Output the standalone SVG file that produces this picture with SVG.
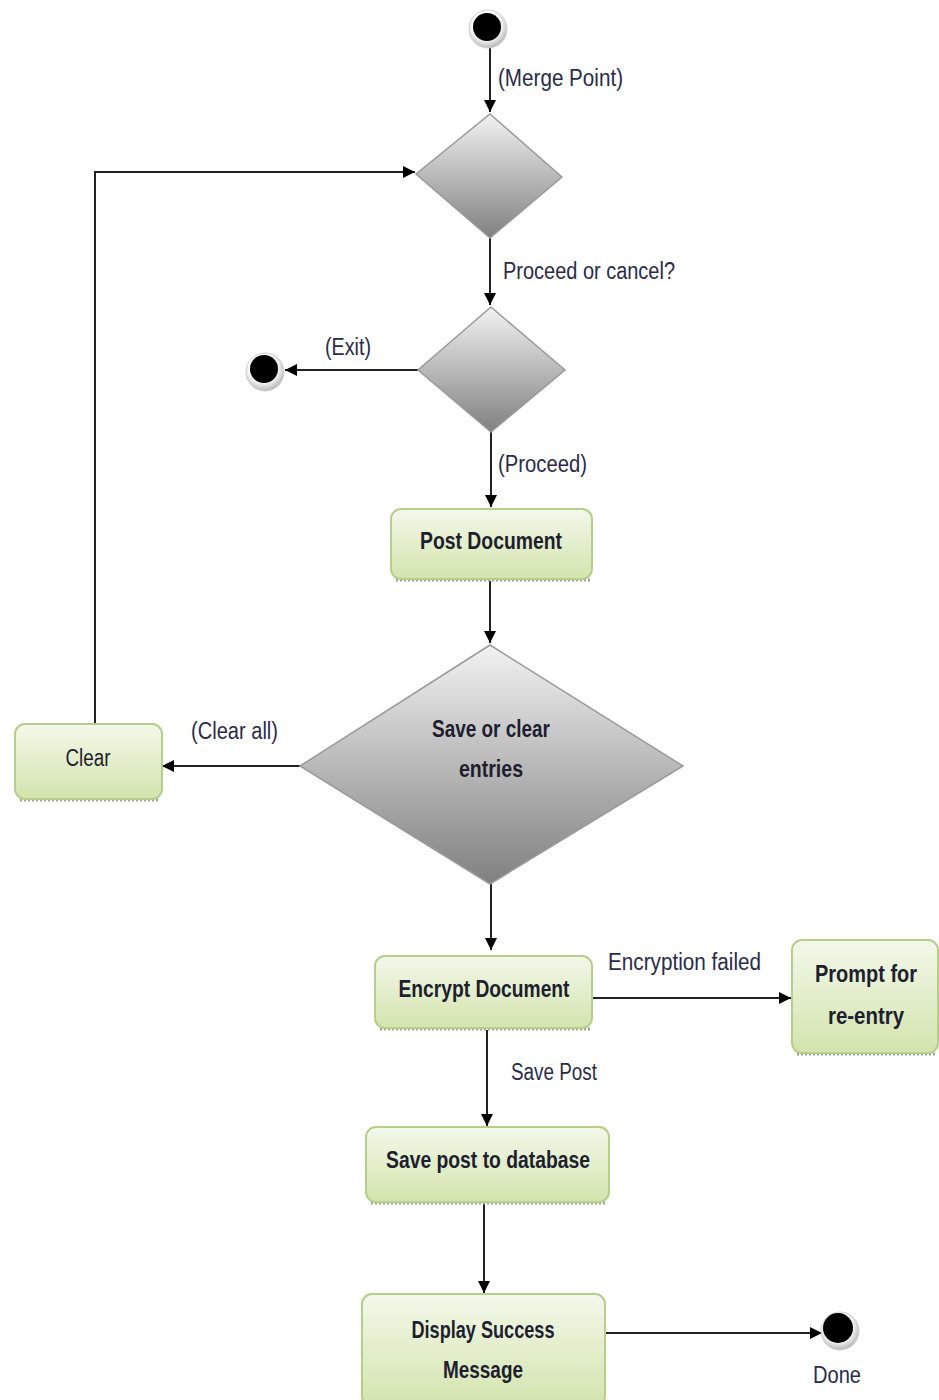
<svg xmlns="http://www.w3.org/2000/svg" width="939" height="1400" viewBox="0 0 939 1400">
  <defs>
    <linearGradient id="boxFill" x1="0" y1="0" x2="0" y2="1">
      <stop offset="0" stop-color="#f3f8ea"/>
      <stop offset="1" stop-color="#d3e4ad"/>
    </linearGradient>
    <linearGradient id="diaFill" x1="0" y1="0" x2="0" y2="1">
      <stop offset="0" stop-color="#f2f2f2"/>
      <stop offset="1" stop-color="#808080"/>
    </linearGradient>
    <radialGradient id="rim" cx="0.45" cy="0.4" r="0.6">
      <stop offset="0.6" stop-color="#ffffff"/>
      <stop offset="1" stop-color="#b8b8b8"/>
    </radialGradient>
    <marker id="arr" viewBox="0 0 10 10" refX="10" refY="5" markerWidth="12" markerHeight="12" markerUnits="userSpaceOnUse" orient="auto">
      <path d="M0,0 L10,5 L0,10 z" fill="#000"/>
    </marker>
  </defs>
  <style>
    .box { fill: url(#boxFill); stroke: #b7cd8c; stroke-width: 2; }
    .shadow { fill: none; stroke: #9aa68a; stroke-width: 3; stroke-dasharray: 2 2; }
    .dia { fill: url(#diaFill); stroke: #9a9a9a; stroke-width: 1.5; }
    .edge { fill: none; stroke: #222; stroke-width: 2; }
    .btxt { font-family: "Liberation Sans", Arial, sans-serif; font-weight: bold; font-size: 23px; fill: #1e1e30; text-anchor: middle; }
    .lbl { font-family: "Liberation Sans", Arial, sans-serif; font-size: 23px; fill: #2b2b48; }
    .rimc { fill: url(#rim); stroke: #cfcfcf; stroke-width: 1; }
  </style>

  <!-- connectors -->
  <g id="connectors">
    <path class="edge" d="M490,44 V112" marker-end="url(#arr)"/>
    <path class="edge" d="M95,723 V172 H415" marker-end="url(#arr)"/>
    <path class="edge" d="M490,238 V305" marker-end="url(#arr)"/>
    <path class="edge" d="M418,370 H285" marker-end="url(#arr)"/>
    <path class="edge" d="M491,432 V507" marker-end="url(#arr)"/>
    <path class="edge" d="M490,581 V643" marker-end="url(#arr)"/>
    <path class="edge" d="M300,766 H162" marker-end="url(#arr)"/>
    <path class="edge" d="M491,884 V950" marker-end="url(#arr)"/>
    <path class="edge" d="M593,998 H791" marker-end="url(#arr)"/>
    <path class="edge" d="M487,1030 V1126" marker-end="url(#arr)"/>
    <path class="edge" d="M484,1204 V1293" marker-end="url(#arr)"/>
    <path class="edge" d="M605,1333 H822" marker-end="url(#arr)"/>
  </g>

  <!-- edge labels -->
  <g id="labels">
    <text class="lbl" x="498" y="86" textLength="125" lengthAdjust="spacingAndGlyphs">(Merge Point)</text>
    <text class="lbl" x="503" y="279" textLength="172" lengthAdjust="spacingAndGlyphs">Proceed or cancel?</text>
    <text class="lbl" x="325" y="355" textLength="46" lengthAdjust="spacingAndGlyphs">(Exit)</text>
    <text class="lbl" x="498" y="472" textLength="89" lengthAdjust="spacingAndGlyphs">(Proceed)</text>
    <text class="lbl" x="191" y="739" textLength="87" lengthAdjust="spacingAndGlyphs">(Clear all)</text>
    <text class="lbl" x="608" y="970" textLength="153" lengthAdjust="spacingAndGlyphs">Encryption failed</text>
    <text class="lbl" x="511" y="1080" textLength="86" lengthAdjust="spacingAndGlyphs">Save Post</text>
    <text class="lbl" x="813" y="1383" textLength="48" lengthAdjust="spacingAndGlyphs">Done</text>
  </g>

  <!-- start node -->
  <g id="start">
    <circle class="rimc" cx="488" cy="29" r="19"/>
    <circle cx="487" cy="27" r="14" fill="#000"/>
  </g>

  <!-- merge decision -->
  <g id="merge">
    <polygon class="dia" points="490,114 562,177 490,238 416,174"/>
  </g>

  <!-- proceed / cancel decision -->
  <g id="proceed-decision">
    <polygon class="dia" points="491,307 565,370 491,432 418,370"/>
  </g>

  <!-- exit end node -->
  <g id="exit">
    <circle class="rimc" cx="265" cy="372" r="19"/>
    <circle cx="264" cy="369" r="14" fill="#000"/>
  </g>

  <!-- Post Document -->
  <g id="post-document">
    <line class="shadow" x1="396" y1="580" x2="590" y2="580"/>
    <rect class="box" x="391" y="509" width="201" height="70" rx="10"/>
    <text class="btxt" x="491" y="549" textLength="142" lengthAdjust="spacingAndGlyphs">Post Document</text>
  </g>

  <!-- save or clear decision -->
  <g id="save-or-clear">
    <polygon class="dia" points="490,645 683,766 490,884 300,766"/>
    <text class="btxt" x="491" y="737" textLength="118" lengthAdjust="spacingAndGlyphs">Save or clear</text>
    <text class="btxt" x="491" y="777" textLength="64" lengthAdjust="spacingAndGlyphs">entries</text>
  </g>

  <!-- Clear -->
  <g id="clear">
    <line class="shadow" x1="20" y1="800" x2="160" y2="800"/>
    <rect class="box" x="15" y="724" width="147" height="75" rx="10"/>
    <text class="lbl" x="88" y="766" text-anchor="middle" textLength="45" lengthAdjust="spacingAndGlyphs" style="fill:#1e1e30">Clear</text>
  </g>

  <!-- Encrypt Document -->
  <g id="encrypt-document">
    <line class="shadow" x1="380" y1="1029" x2="590" y2="1029"/>
    <rect class="box" x="375" y="956" width="217" height="72" rx="10"/>
    <text class="btxt" x="484" y="997" textLength="171" lengthAdjust="spacingAndGlyphs">Encrypt Document</text>
  </g>

  <!-- Prompt for re-entry -->
  <g id="prompt-reentry">
    <line class="shadow" x1="797" y1="1054" x2="936" y2="1054"/>
    <rect class="box" x="792" y="940" width="146" height="113" rx="10"/>
    <text class="btxt" x="866" y="982" textLength="102" lengthAdjust="spacingAndGlyphs">Prompt for</text>
    <text class="btxt" x="866" y="1024" textLength="76" lengthAdjust="spacingAndGlyphs">re-entry</text>
  </g>

  <!-- Save post to database -->
  <g id="save-post">
    <line class="shadow" x1="371" y1="1203" x2="607" y2="1203"/>
    <rect class="box" x="366" y="1127" width="243" height="75" rx="10"/>
    <text class="btxt" x="488" y="1168" textLength="204" lengthAdjust="spacingAndGlyphs">Save post to database</text>
  </g>

  <!-- Display Success Message -->
  <g id="display-success">
    <rect class="box" x="362" y="1294" width="243" height="112" rx="10"/>
    <text class="btxt" x="483" y="1338" textLength="143" lengthAdjust="spacingAndGlyphs">Display Success</text>
    <text class="btxt" x="483" y="1378" textLength="80" lengthAdjust="spacingAndGlyphs">Message</text>
  </g>

  <!-- final node -->
  <g id="done">
    <circle class="rimc" cx="840" cy="1331" r="19"/>
    <circle cx="838" cy="1328" r="15" fill="#000"/>
  </g>
</svg>
